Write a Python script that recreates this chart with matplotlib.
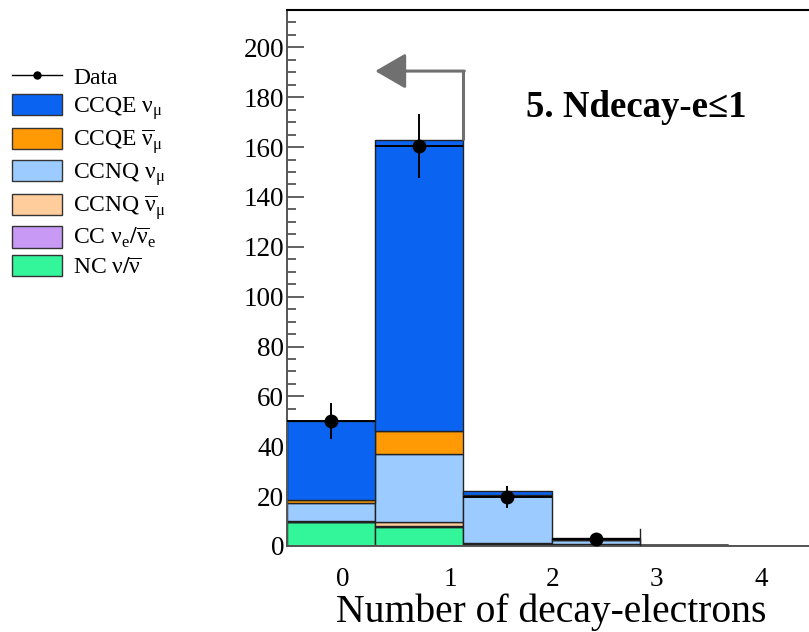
"""Decay-electron multiplicity, stacked MC vs data (cut 5)."""
import numpy as np
import matplotlib
matplotlib.use("Agg")
import matplotlib.pyplot as plt
from matplotlib.patches import Patch
from matplotlib.lines import Line2D
from matplotlib.ticker import MultipleLocator

plt.rcParams["font.family"] = ["Liberation Serif", "DejaVu Serif"]
plt.rcParams["mathtext.fontset"] = "stix"

# bins: one per decay-electron count shown
bin_idx = [0, 1, 2, 3, 4, 5]

# stack, bottom -> top
nc = [9.5, 7.8, 0.5, 0.5, 0.5, 0.0]
cc_nue = [0.3, 0.1, 0.2, 0.1, 0.0, 0.0]
ccnq_numubar = [0.2, 1.9, 0.3, 0.2, 0.0, 0.0]
ccnq_numu = [7.3, 27.2, 19.1, 1.5, 0.0, 0.0]
ccqe_numubar = [1.2, 9.0, 0.3, 0.2, 0.0, 0.0]
ccqe_numu = [31.5, 117.0, 1.7, 0.6, 0.0, 0.0]

data_x = [0, 1, 2, 3]
data_y = [50.0, 160.5, 19.6, 2.8]
data_err = [7.2, 12.7, 4.5, 1.7]

tick_labels = ["0", "1", "2", "3", "4"]
tick_pos = [0.135, 1.35, 2.51, 3.69, 4.88]

cut_value = 1.5       # keep Ndecay-e <= 1
arrow_y = 190.5
stray_edge = (3.5, 7.0)

nu = r"\mathregular{ν}"
nubar = r"\overline{\mathregular{ν}}"
layers = [
    (nc, "#33f59a", rf"NC ${nu}/{nubar}$"),
    (cc_nue, "#c99af5", rf"CC ${nu}_\mathregular{{e}}/{nubar}_\mathregular{{e}}$"),
    (ccnq_numubar, "#ffcc9c", rf"CCNQ ${nubar}_\mathregular{{μ}}$"),
    (ccnq_numu, "#9cccff", rf"CCNQ ${nu}_\mathregular{{μ}}$"),
    (ccqe_numubar, "#ff9a05", rf"CCQE ${nubar}_\mathregular{{μ}}$"),
    (ccqe_numu, "#0b63f2", rf"CCQE ${nu}_\mathregular{{μ}}$"),
]

fig = plt.figure(figsize=(8.09, 6.32), dpi=100)
ax = fig.add_axes([0.3548, 0.1361, 0.654, 0.8481])

bottom = np.zeros(len(bin_idx))
for vals, col, _ in layers:
    ax.bar(bin_idx, vals, width=1.0, bottom=bottom, color=col,
           edgecolor="#222222", linewidth=1.0, zorder=2)
    bottom += np.array(vals)

ax.plot([stray_edge[0]] * 2, [0, stray_edge[1]], color="#222", lw=1.0, zorder=3)

ax.errorbar(data_x, data_y, yerr=data_err, xerr=0.5, fmt="o", color="black",
            ms=9, elinewidth=1.4, capsize=0, zorder=5)

# selection arrow
ax.plot([cut_value, cut_value], [bottom[1], arrow_y], color="#707070", lw=2.2,
        zorder=4, solid_capstyle="butt")
ax.annotate("", xy=(0.5, arrow_y), xytext=(cut_value + 0.01, arrow_y),
            arrowprops=dict(arrowstyle="-|>,head_length=0.95,head_width=0.55",
                            color="#707070", lw=2.2, shrinkA=0, shrinkB=0,
                            mutation_scale=20), zorder=4)

ax.text(3.46, 176, "5. Ndecay-e\u22641", fontsize=26.5, fontweight="bold",
        ha="center", va="center")

ax.set_xlim(-0.5, 5.5)
ax.set_ylim(0, 215)
ax.set_xticks(tick_pos, tick_labels)
ax.yaxis.set_major_locator(MultipleLocator(20))
ax.yaxis.set_minor_locator(MultipleLocator(5))
ax.tick_params(axis="x", length=0, pad=15, labelsize=19.5)
ax.tick_params(axis="y", which="major", direction="in", length=12, width=1.3,
               color="#555555", labelsize=19.5, pad=2)
ax.tick_params(axis="y", which="minor", direction="in", length=6.5, width=1.3,
               color="#555555")
ax.set_xlabel("Number of decay-electrons", fontsize=28.5, labelpad=1)

for side in ("left", "bottom"):
    ax.spines[side].set_color("#555555")
    ax.spines[side].set_linewidth(1.4)
ax.spines["top"].set_linewidth(1.5)
ax.spines["right"].set_visible(False)

handles = [Line2D([0], [0], color="black", lw=1, marker="o", ms=5)]
labels = ["Data"]
for vals, col, lab in reversed(layers):
    handles.append(Patch(facecolor=col, edgecolor="#333333", lw=1.0))
    labels.append(lab)
fig.legend(handles, labels, loc="upper left", bbox_to_anchor=(-0.006, 0.922),
           frameon=False, fontsize=17, handlelength=2.15, handleheight=1.0,
           labelspacing=0.2, handletextpad=0.45, borderaxespad=0.3)

fig.savefig("out.png", dpi=100)
